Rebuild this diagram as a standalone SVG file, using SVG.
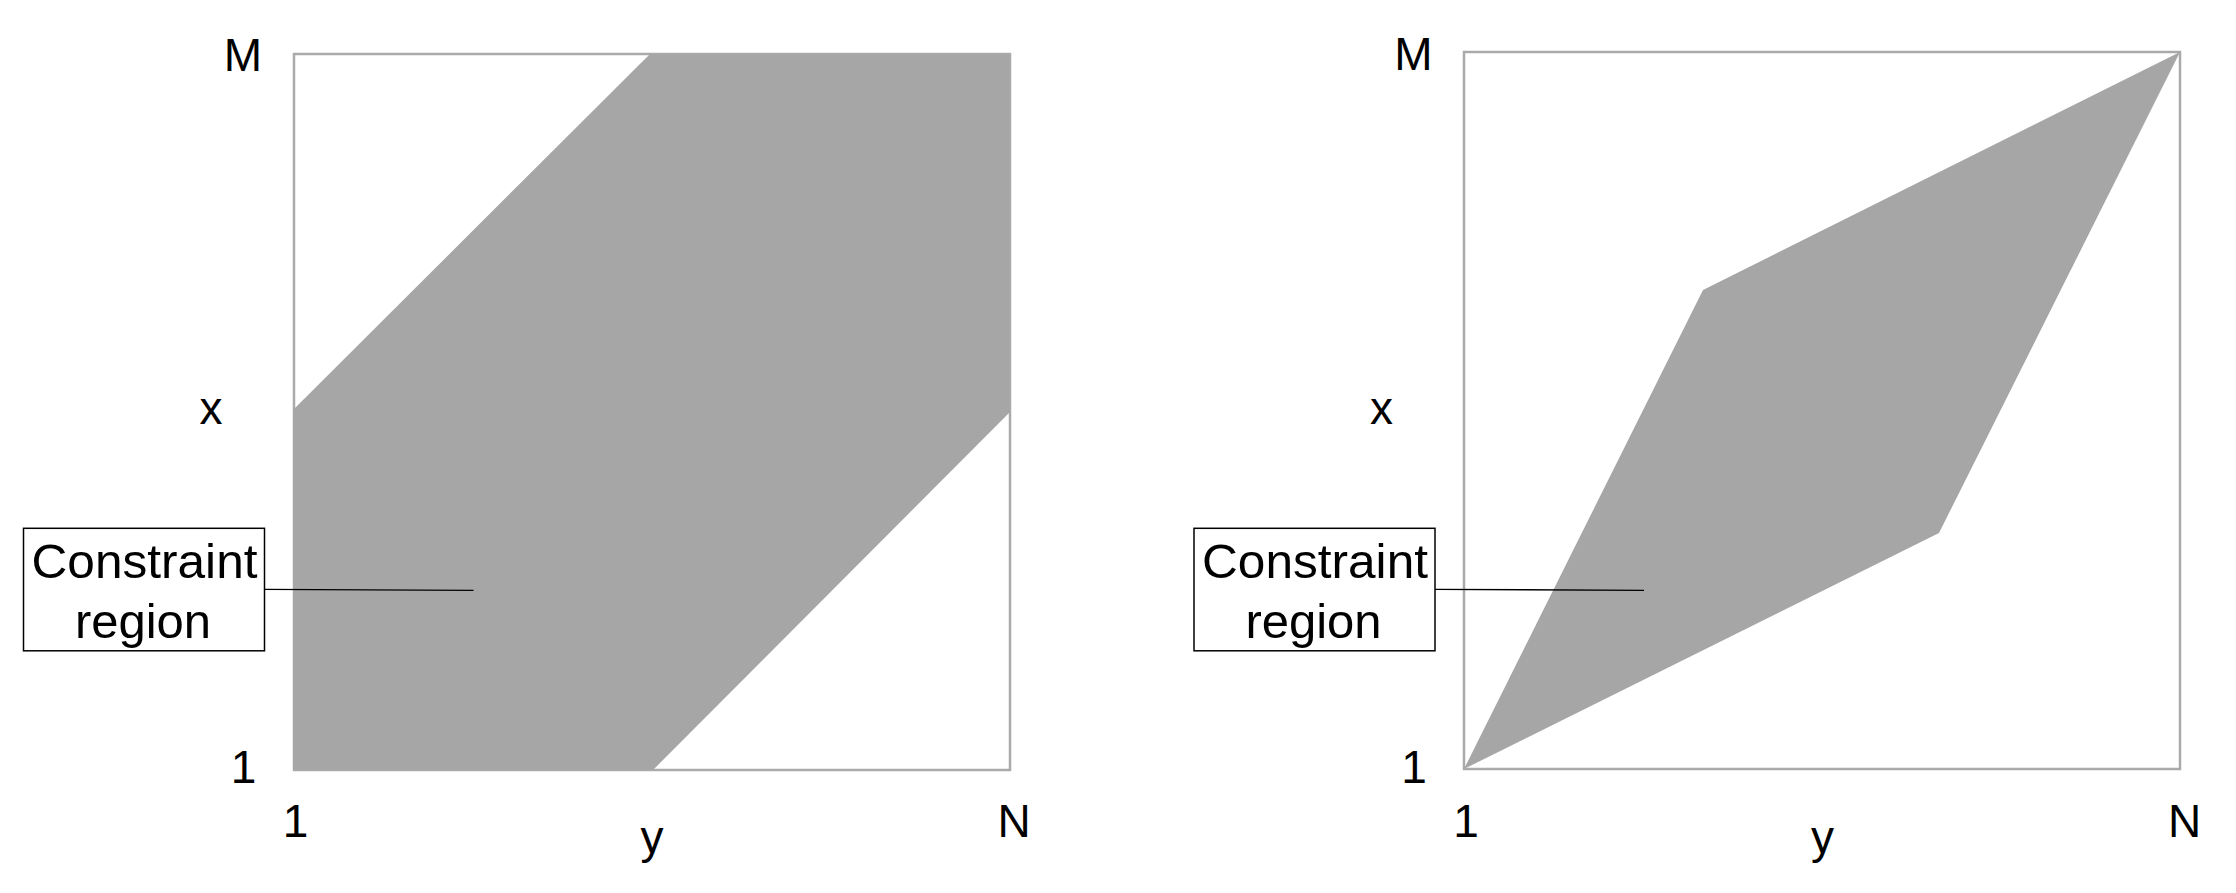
<svg xmlns="http://www.w3.org/2000/svg" width="2236" height="893" viewBox="0 0 2236 893">
<style>
.frame{fill:#ffffff;stroke:#aaaaaa;stroke-width:2.5}
.region{fill:#a6a6a6;stroke:none}
.lab{font-family:"Liberation Sans",Arial,sans-serif;font-size:46px;fill:#000;text-anchor:middle}
.box{fill:#ffffff;stroke:#000;stroke-width:1.5}
.boxt{font-family:"Liberation Sans",Arial,sans-serif;font-size:49px;fill:#000;text-anchor:middle}
.lead{stroke:#000;stroke-width:1.3;fill:none}
</style>
<rect width="2236" height="893" fill="#ffffff"/>
<g id="left-plot">
  <rect class="frame" x="294" y="54" width="716" height="716"/>
  <polygon class="region" points="650,54 1010,54 1010,412 653,770 293,770 293,410"/>
  <text class="lab" x="243" y="71">M</text>
  <text class="lab" x="211" y="424">x</text>
  <text class="lab" x="243.5" y="783">1</text>
  <text class="lab" x="295.5" y="837">1</text>
  <text class="lab" x="652" y="853">y</text>
  <text class="lab" x="1014" y="837">N</text>
</g>
<g id="right-plot">
  <rect class="frame" x="1464" y="52" width="716" height="717"/>
  <polygon class="region" points="1464,769 1703,290 2180,52 1939,533"/>
  <text class="lab" x="1413.5" y="70">M</text>
  <text class="lab" x="1381.5" y="424">x</text>
  <text class="lab" x="1414" y="783">1</text>
  <text class="lab" x="1466" y="837">1</text>
  <text class="lab" x="1822.5" y="853">y</text>
  <text class="lab" x="2184.5" y="837">N</text>
</g>
<g id="connectors">
  <line class="lead" x1="264.5" y1="589.3" x2="473.5" y2="590.3"/>
  <line class="lead" x1="1435" y1="589.3" x2="1644" y2="590.3"/>
</g>
<g id="label-left">
  <rect class="box" x="23.5" y="528.3" width="241" height="122.5"/>
  <text class="boxt" x="144.5" y="577.7" textLength="226" lengthAdjust="spacingAndGlyphs">Constraint</text>
  <text class="boxt" x="143" y="638.3">region</text>
</g>
<g id="label-right">
  <rect class="box" x="1194" y="528.3" width="241" height="122.5"/>
  <text class="boxt" x="1315" y="577.7" textLength="226" lengthAdjust="spacingAndGlyphs">Constraint</text>
  <text class="boxt" x="1313.5" y="638.3">region</text>
</g>
</svg>
